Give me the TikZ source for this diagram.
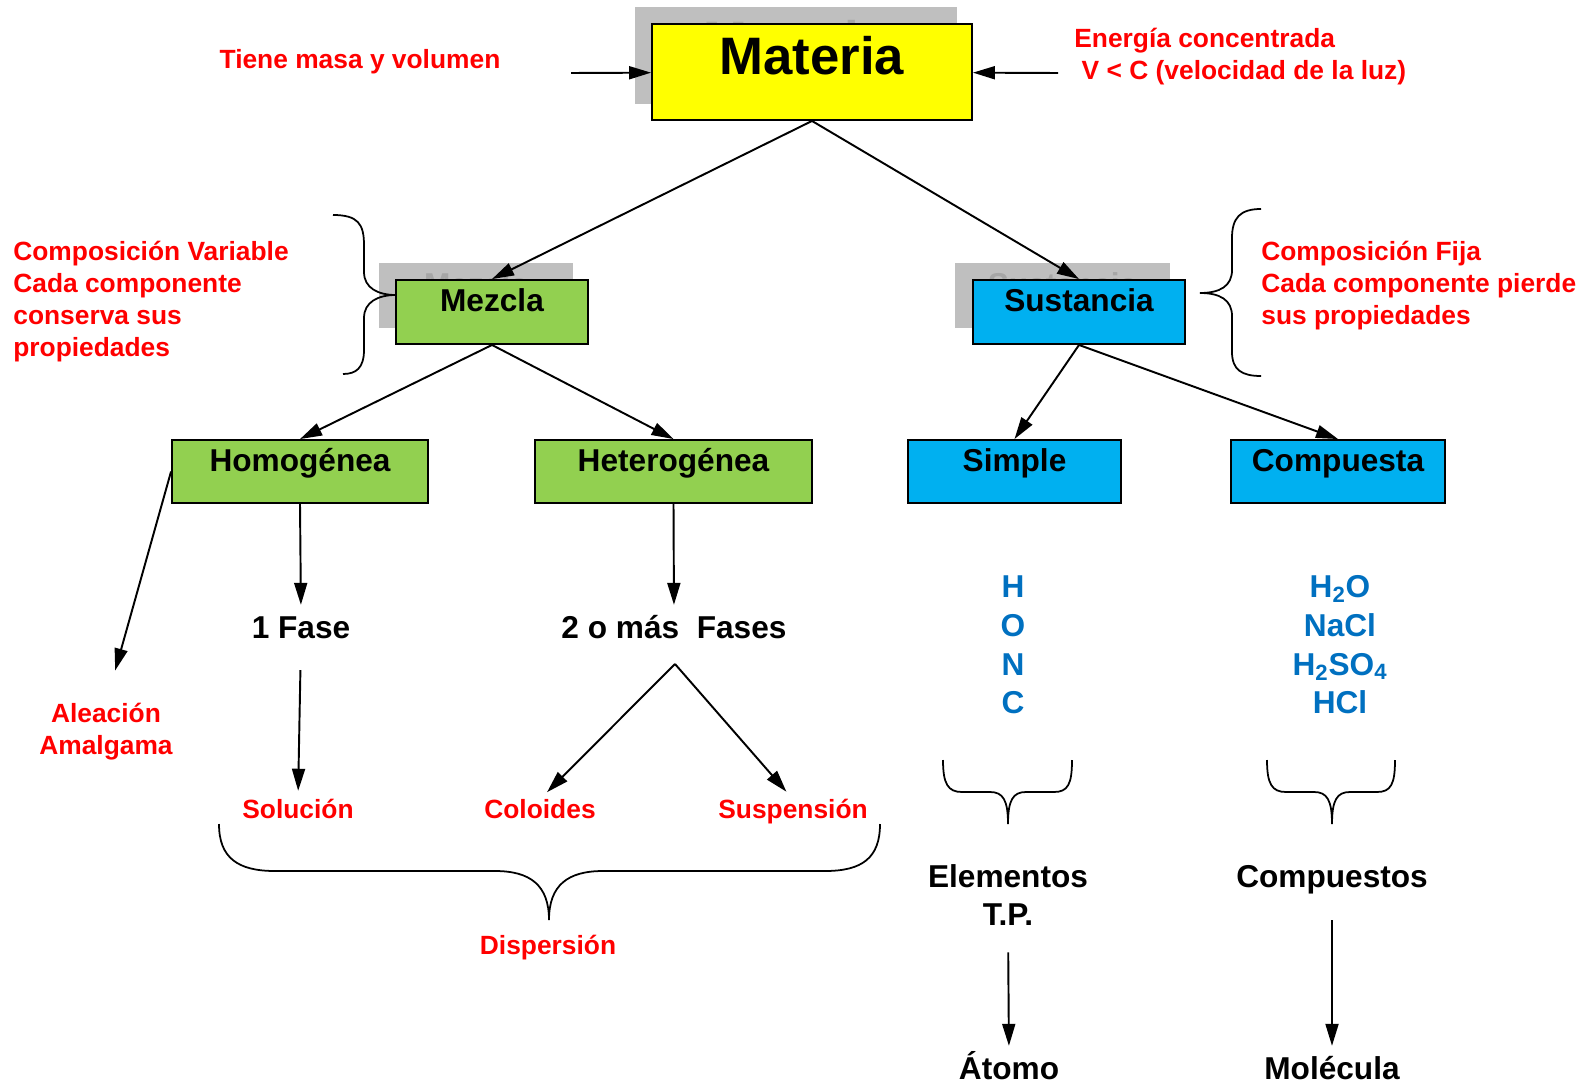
\documentclass[tikz,border=0pt]{standalone}
\usepackage{fontspec}
\setmainfont{Liberation Sans}
\usetikzlibrary{arrows.meta}
\definecolor{amarillo}{HTML}{FFFF00}
\definecolor{verde}{HTML}{92D050}
\definecolor{celeste}{HTML}{00B0F0}
\definecolor{gris}{HTML}{BFBFBF}
\definecolor{gristxt}{HTML}{A6A6A6}
\definecolor{rojo}{HTML}{FF0000}
\definecolor{azul}{HTML}{0070C0}

\begin{document}
\begin{tikzpicture}[x=0.02cm,y=-0.02cm,
    tit/.style={font=\fontsize{30}{36}\selectfont\bfseries, text height=21.5pt, text depth=.64cm, inner sep=1pt},
    niv/.style={font=\fontsize{18}{22}\selectfont\bfseries, text height=12.9pt, text depth=.47cm, inner sep=1pt},
    caja/.style={draw, line width=1.1pt},
    sombra/.style={fill=gris, text=gristxt},
    txt/.style={font=\fontsize{18}{22}\selectfont\bfseries, text height=12.9pt, text depth=0pt, inner sep=0pt},
    npar/.style={font=\fontsize{18}{21.6}\selectfont\bfseries, align=center, inner sep=0pt},
    bpar/.style={npar, text=azul, font=\fontsize{18}{22}\selectfont\bfseries},
    rtxt/.style={font=\fontsize{15}{18.2}\selectfont\bfseries, text=rojo, text height=10.7pt, text depth=0pt, inner sep=0pt},
    rpar/.style={font=\fontsize{15}{18.2}\selectfont\bfseries, text=rojo, align=left, inner sep=0pt},
    arr/.style={line width=1.1pt, -{Triangle[length=.44cm,width=.26cm]}},
    llave/.style={line width=1pt}]
\useasboundingbox (0,0) rectangle (1585,1088);

% sombras
\node[tit, sombra, minimum width=6.44cm, minimum height=1.94cm] (materiaS) at (796,55.5) {Materia};
\node[niv, sombra, minimum width=3.88cm, minimum height=1.3cm] (mezclaS) at (476,295.5) {Mezcla};
\node[niv, sombra, minimum width=4.3cm, minimum height=1.3cm] (sustanciaS) at (1062.5,295.5) {Sustancia};

% cajas
\node[tit, caja, fill=amarillo, minimum width=6.4cm, minimum height=1.92cm] (materia) at (812,72) {Materia};
\node[niv, caja, fill=verde, minimum width=3.84cm, minimum height=1.28cm] (mezcla) at (492,312) {Mezcla};
\node[niv, caja, fill=celeste, minimum width=4.24cm, minimum height=1.28cm] (sustancia) at (1079,312) {Sustancia};
\node[niv, caja, fill=verde, minimum width=5.12cm, minimum height=1.26cm] (homogenea) at (300,471.5) {Homogénea};
\node[niv, caja, fill=verde, minimum width=5.54cm, minimum height=1.26cm] (heterogenea) at (673.5,471.5) {Heterogénea};
\node[niv, caja, fill=celeste, minimum width=4.26cm, minimum height=1.26cm] (simple) at (1014.5,471.5) {Simple};
\node[niv, caja, fill=celeste, minimum width=4.28cm, minimum height=1.26cm] (compuesta) at (1338,471.5) {Compuesta};

% textos
\node[rtxt] (tiene) at (360,59) {Tiene masa y volumen};
\node[rpar, anchor=west] (energia) at (1074,57) {Energía concentrada\\\hspace*{.28em}V < C (velocidad de la luz)};
\node[rpar, anchor=west] (variable) at (13,302) {Composición Variable\\Cada componente\\conserva sus\\propiedades};
\node[rpar, anchor=west] (fija) at (1261,286) {Composición Fija\\Cada componente pierde\\sus propiedades};
\node[txt] (fase1) at (301,627) {1 Fase};
\node[txt] (fases2) at (674,627) {2 o más\ \ Fases};
\node[rpar, align=center] (aleacion) at (106,732) {Aleación\\Amalgama};
\node[rtxt] (solucion) at (298,809) {Solución};
\node[rtxt] (coloides) at (540,809) {Coloides};
\node[rtxt] (suspension) at (793,809) {Suspensión};
\node[rtxt] (dispersion) at (548,945) {Dispersión};
\node[bpar] (elem) at (1013,645) {H\\O\\N\\C};
\node[bpar] (comp) at (1340,645) {H\textsubscript{2}O\\NaCl\\H\textsubscript{2}SO\textsubscript{4}\\HCl};
\node[npar] (elementos) at (1008,895) {Elementos\\T.P.};
\node[txt] (compuestos) at (1332,876) {Compuestos};
\node[txt] (atomo) at (1009,1068) {Átomo};
\node[txt] (molecula) at (1332,1068) {Molécula};

\coordinate (tieneF) at (571,73);
\coordinate (energiaF) at (1058,73);
\coordinate (vertice) at (675,664);

% flechas
\draw[arr] (tieneF) -- (materia);
\draw[arr] (energiaF) -- (materia);
\draw[arr] (materia.south) -- (mezcla.north);
\draw[arr] (materia.south) -- (sustancia.north);
\draw[arr] (mezcla.south) -- (homogenea.north);
\draw[arr] (mezcla.south) -- (heterogenea.north);
\draw[arr] (sustancia.south) -- (simple.north);
\draw[arr] (sustancia.south) -- (compuesta.north);
\draw[arr, shorten >=.68cm] (homogenea.west) -- (aleacion.north);
\draw[arr, shorten >=.21cm] (homogenea.south) -- (fase1.north);
\draw[arr, shorten >=.21cm] (heterogenea.south) -- (fases2.north);
\draw[arr, shorten <=.63cm, shorten >=.17cm] (fase1.south) -- (solucion.north);
\draw[arr, shorten >=.2cm] (vertice) -- (coloides.north);
\draw[arr, shorten >=.2cm] (vertice) -- (suspension.north);
\draw[arr, shorten <=.53cm, shorten >=.21cm] (elementos.south) -- (atomo.north);
\draw[arr, shorten <=.65cm, shorten >=.21cm] (compuestos.south) -- (molecula.north);

% llaves
\draw[llave] (333,215) .. controls (358,215) and (364,224) .. (364,245) -- (364,272)
  .. controls (364,288) and (378,295) .. (396,295)
  .. controls (378,295) and (364,302) .. (364,318) -- (364,350)
  .. controls (364,368) and (356,374) .. (343,374);
\draw[llave] (1261,209) .. controls (1240,209) and (1232,218) .. (1232,238) -- (1232,270)
  .. controls (1232,286) and (1220,293) .. (1200,293)
  .. controls (1220,293) and (1232,300) .. (1232,316) -- (1232,352)
  .. controls (1232,370) and (1242,376) .. (1261,376);
\draw[llave] (219,824) .. controls (219,858) and (238,871) .. (275,871) -- (495,871)
  .. controls (530,871) and (549,885) .. (549,920)
  .. controls (549,885) and (568,871) .. (603,871) -- (825,871)
  .. controls (862,871) and (880,858) .. (880,824);
\draw[llave] (943,760) .. controls (943,784) and (948,792) .. (962,792) -- (990,792)
  .. controls (1003,792) and (1008,800) .. (1008,824)
  .. controls (1008,800) and (1013,792) .. (1026,792) -- (1054,792)
  .. controls (1068,792) and (1072,784) .. (1072,760);
\draw[llave] (1267,760) .. controls (1267,784) and (1272,792) .. (1286,792) -- (1314,792)
  .. controls (1327,792) and (1332,800) .. (1332,824)
  .. controls (1332,800) and (1337,792) .. (1350,792) -- (1377,792)
  .. controls (1391,792) and (1395,784) .. (1395,760);
\end{tikzpicture}
\end{document}
